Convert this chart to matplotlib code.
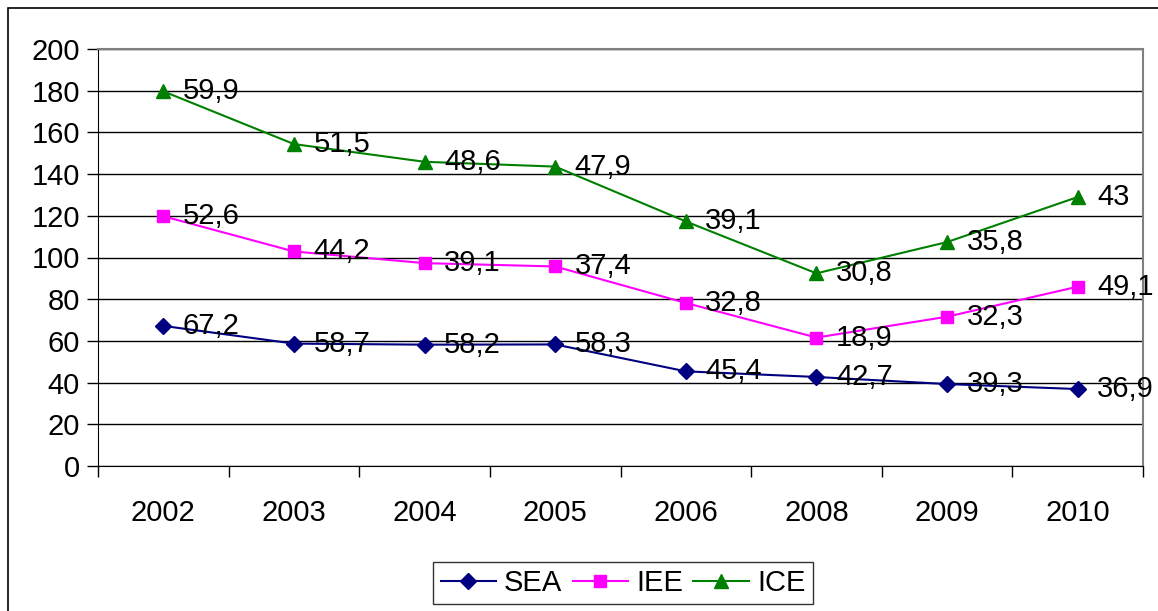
import numpy as np
import matplotlib
matplotlib.use("Agg")
import matplotlib.pyplot as plt
from matplotlib.patches import Rectangle

# Data (stacked line chart, labels show each series' own value)
years = ["2002", "2003", "2004", "2005", "2006", "2008", "2009", "2010"]
sea = [67.2, 58.7, 58.2, 58.3, 45.4, 42.7, 39.3, 36.9]
iee = [52.6, 44.2, 39.1, 37.4, 32.8, 18.9, 32.3, 49.1]
ice = [59.9, 51.5, 48.6, 47.9, 39.1, 30.8, 35.8, 43.0]
series_names = ["SEA", "IEE", "ICE"]

plt.rcParams['font.family'] = ['Liberation Sans', 'DejaVu Sans']
FS = 21

fig = plt.figure(figsize=(11.58, 6.11), dpi=100)
ax = fig.add_axes([98 / 1158, 1 - 466 / 611, (1143 - 98) / 1158, (466 - 49) / 611])

x = np.arange(len(years))
cum1 = np.array(sea)
cum2 = cum1 + np.array(iee)
cum3 = cum2 + np.array(ice)

styles = [
    (cum1, sea, '#000080', 'D', 8),
    (cum2, iee, '#FF00FF', 's', 9),
    (cum3, ice, '#008000', '^', 10),
]

for (ys, vals, col, mk, ms), name in zip(styles, series_names):
    ax.plot(x, ys, color=col, marker=mk, markersize=ms, linewidth=1.5, label=name, zorder=3)
    for xi, yi, v in zip(x, ys, vals):
        txt = ("%g" % v).replace(".", ",")
        ax.annotate(txt, (xi, yi), xytext=(14, 0), textcoords='offset points',
                    ha='left', va='center', fontsize=FS, zorder=4)

ax.set_xlim(-0.5, len(years) - 0.5)
ax.set_ylim(0, 200)
ax.set_yticks(np.arange(0, 201, 20))
ax.set_xticks(x)
ax.set_xticklabels(years)
ax.set_xticks(np.arange(-0.5, len(years), 1), minor=True)
ax.tick_params(axis='x', which='major', length=0, labelsize=FS, pad=24)
ax.tick_params(axis='x', which='minor', length=8, width=1, direction='out')
ax.tick_params(axis='y', labelsize=FS, length=8, width=1, direction='out', pad=5)
ax.grid(axis='y', color='#000000', linewidth=1, zorder=0)

for side in ['top', 'right']:
    ax.spines[side].set_color('#808080')
    ax.spines[side].set_linewidth(1.5)
ax.spines['left'].set_color('black')
ax.spines['bottom'].set_color('black')

leg = fig.legend(loc='center', bbox_to_anchor=(623 / 1158, 1 - 583 / 611), ncol=3,
                 fontsize=FS, frameon=True, fancybox=False, handlelength=1.9,
                 handletextpad=0.28, columnspacing=0.35, borderpad=0.25,
                 borderaxespad=0)
leg.get_frame().set_edgecolor('black')
leg.get_frame().set_linewidth(1)

# outer chart border
fig.patches.append(Rectangle((8 / 1158, -0.1), 1.2, 1 - 8 / 611 + 0.1,
                             transform=fig.transFigure, fill=False,
                             edgecolor='black', linewidth=1.2))

fig.savefig("out.png", dpi=100)
